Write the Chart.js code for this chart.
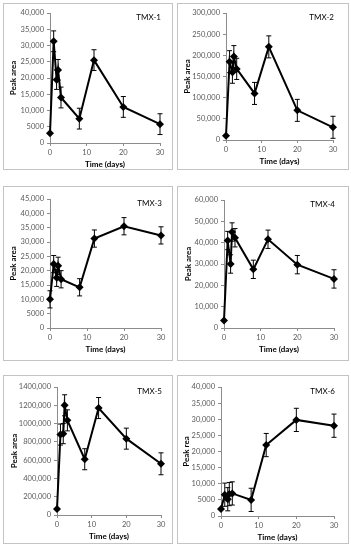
<!DOCTYPE html>
<html>
<head>
<meta charset="utf-8">
<script src="https://cdn.jsdelivr.net/npm/chart.js@4/dist/chart.umd.min.js"></script>
<style>
  body { margin: 0; background: #fff; }
  #wrap { position: relative; width: 351px; height: 550px; }
  .box { position: absolute; border: 1px solid #c4c4c4; box-sizing: border-box; }
  canvas { position: absolute; }
</style>
</head>
<body>
<div id="wrap"></div>
<script>
// sampling times (days), shared by all panels
const times = [0, 1, 1.8, 2.2, 3, 8, 12, 20, 30];

const names = ["TMX-1", "TMX-2", "TMX-3", "TMX-4", "TMX-5", "TMX-6"];
const yTitles = ["Peak area", "Peak area", "Peak area", "Peak area", "Peak area", "Peak rea"];
const yMax = [40000, 300000, 45000, 60000, 1400000, 40000];
const yStep = [5000, 50000, 5000, 10000, 200000, 5000];
const xTicks = [0, 10, 20, 30];

// peak areas and error bars
const tmx1 = [3000, 31300, 19500, 22500, 14000, 7500, 25500, 11100, 5800];
const tmx1Err = [0, 3200, 3000, 3200, 3200, 3200, 3200, 3200, 3200];
const tmx2 = [10000, 185000, 160000, 197000, 168000, 110000, 220000, 70000, 30000];
const tmx2Err = [0, 26000, 26000, 26000, 25000, 26000, 26000, 26000, 26000];
const tmx3 = [10000, 22300, 17500, 21700, 17000, 14200, 31200, 35500, 32300];
const tmx3Err = [3000, 3000, 3000, 3000, 3000, 3000, 3000, 3000, 3000];
const tmx4 = [3500, 41000, 30000, 45000, 42300, 27500, 41600, 29700, 23000];
const tmx4Err = [0, 4300, 4300, 4300, 4300, 4300, 4300, 4300, 4300];
const tmx5 = [65000, 880000, 890000, 1200000, 1035000, 610000, 1170000, 835000, 560000];
const tmx5Err = [0, 115000, 110000, 115000, 115000, 115000, 115000, 115000, 120000];
const tmx6 = [2200, 6600, 5200, 6800, 7000, 5000, 22000, 29800, 28000];
const tmx6Err = [0, 3600, 3600, 3600, 3600, 3600, 3600, 3600, 3600];

const series = [tmx1, tmx2, tmx3, tmx4, tmx5, tmx6];
const errors = [tmx1Err, tmx2Err, tmx3Err, tmx4Err, tmx5Err, tmx6Err];

// panel frames and plot areas on the page
const layout = [
  { x: 3,   y: 3,   w: 170, h: 167, area: [50, 13, 160, 143],  titleX: 14 },
  { x: 177, y: 3,   w: 172, h: 167, area: [226, 13, 333, 140], titleX: 188 },
  { x: 3,   y: 186, w: 170, h: 175, area: [50, 199, 161, 328], titleX: 14 },
  { x: 177, y: 186, w: 172, h: 175, area: [224, 200, 334, 328], titleX: 189 },
  { x: 3,   y: 375, w: 170, h: 169, area: [57, 387, 161, 515], titleX: 15 },
  { x: 177, y: 375, w: 172, h: 169, area: [221, 387, 334, 516], titleX: 187 }
];

function fmt(v) {
  if (v < 10000) return String(v);
  return Math.floor(v / 1000) + ",000";
}

const errorBars = {
  id: "errorBars",
  afterDatasetsDraw(chart, args, opts) {
    const ctx = chart.ctx;
    const xs = chart.scales.x, ys = chart.scales.y;
    ctx.save();
    ctx.strokeStyle = "#000";
    ctx.lineWidth = 1;
    opts.err.forEach((e, i) => {
      if (!e) return;
      const px = xs.getPixelForValue(opts.t[i]);
      const top = ys.getPixelForValue(opts.v[i] + e);
      const bot = ys.getPixelForValue(Math.max(0, opts.v[i] - e));
      ctx.beginPath();
      ctx.moveTo(px, top); ctx.lineTo(px, bot);
      ctx.moveTo(px - 2.5, top); ctx.lineTo(px + 2.5, top);
      ctx.moveTo(px - 2.5, bot); ctx.lineTo(px + 2.5, bot);
      ctx.stroke();
    });
    ctx.restore();
  }
};

const panelLabel = {
  id: "panelLabel",
  afterDraw(chart, args, opts) {
    const ctx = chart.ctx, a = chart.chartArea;
    ctx.save();
    ctx.font = "8px Lato";
    ctx.fillStyle = "#000";
    ctx.textAlign = "right";
    ctx.textBaseline = "middle";
    ctx.fillText(opts.text, a.right + 1, a.top + 4);
    ctx.restore();
  }
};

const wrap = document.getElementById("wrap");
const M = 4;

layout.forEach((L, k) => {
  const box = document.createElement("div");
  box.className = "box";
  box.style.left = L.x + "px"; box.style.top = L.y + "px";
  box.style.width = L.w + "px"; box.style.height = L.h + "px";
  wrap.appendChild(box);

  const cv = document.createElement("canvas");
  const cl = L.x - M, ct = L.y - M, cw = L.w + 2 * M, ch = L.h + 2 * M;
  cv.style.left = cl + "px"; cv.style.top = ct + "px";
  cv.width = cw; cv.height = ch;
  cv.style.width = cw + "px"; cv.style.height = ch + "px";
  wrap.appendChild(cv);

  const [al, at, ar, ab] = L.area;
  const yw = al - L.titleX + 6;
  const xh = 27;

  new Chart(cv.getContext("2d"), {
    type: "line",
    data: {
      datasets: [{
        data: times.map((t, i) => ({ x: t, y: series[k][i] })),
        borderColor: "#000",
        borderWidth: 2,
        backgroundColor: "#000",
        pointStyle: "rectRot",
        pointRadius: 4,
        pointBorderWidth: 0,
        tension: 0,
        clip: false
      }]
    },
    options: {
      responsive: false,
      animation: false,
      layout: {
        padding: { left: al - yw - cl, top: at - ct, right: cl + cw - ar, bottom: ct + ch - ab - xh }
      },
      plugins: {
        legend: { display: false },
        tooltip: { enabled: false },
        errorBars: { t: times, v: series[k], err: errors[k] },
        panelLabel: { text: names[k] }
      },
      scales: {
        x: {
          type: "linear",
          min: 0, max: 30,
          afterFit: s => { s.height = xh; },
          afterBuildTicks: s => { s.ticks = xTicks.map(v => ({ value: v })); },
          grid: { drawOnChartArea: false, tickLength: 3, color: "#8c8c8c" },
          border: { color: "#8c8c8c" },
          ticks: { font: { family: "Lato", size: 7.5 }, color: "#595959", padding: 2, maxRotation: 0 },
          title: { display: true, text: "Time (days)", font: { family: "Lato", size: 8, weight: "bold" }, color: "#000", padding: 1 }
        },
        y: {
          min: 0, max: yMax[k],
          afterFit: s => { s.width = yw; },
          grid: { drawOnChartArea: false, tickLength: 3, color: "#8c8c8c" },
          border: { color: "#8c8c8c" },
          ticks: { stepSize: yStep[k], font: { family: "Lato", size: 7.5 }, color: "#595959", padding: 3, callback: v => fmt(v) },
          title: { display: true, text: yTitles[k], font: { family: "Lato", size: 8, weight: "bold" }, color: "#000", padding: 1 }
        }
      }
    },
    plugins: [errorBars, panelLabel]
  });
});
</script>
</body>
</html>
